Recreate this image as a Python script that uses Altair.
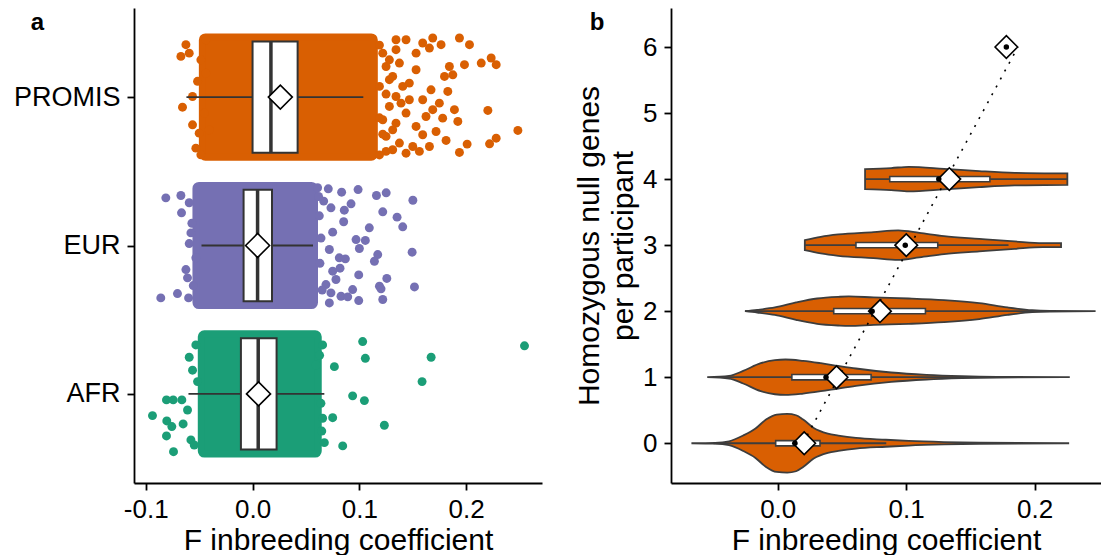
import altair as alt
import pandas as pd

FONT = "Liberation Sans"

# ---------------- panel a data ----------------
groups = ["PROMIS", "EUR", "AFR"]
group_pos = [3, 2, 1]
group_colors = ["#D95F02", "#7570B3", "#1B9E77"]

# dense part of each jittered cloud (F range)
core_lo = [-0.047, -0.053, -0.048]
core_hi = [0.114, 0.058, 0.0615]

box_q1 = [0.0, -0.0084, -0.0109]
box_med = [0.0172, 0.0047, 0.0053]
box_q3 = [0.0422, 0.0182, 0.0225]
whisk_lo = [-0.0619, -0.0478, -0.060]
whisk_hi = [0.1037, 0.0566, 0.0672]
group_mean = [0.026, 0.0047, 0.0056]

# scattered (individually visible) participants: F value and jitter offset
promis_F = [0.1937, 0.2031, 0.2141, 0.2234, 0.2281, 0.1984, 0.2203, 0.2484, 0.2281, 0.2219,
            0.2009, 0.1937, 0.1812, 0.178, 0.189, 0.1922, 0.1828, 0.1797, 0.1875, 0.1765,
            0.1687, 0.1593, 0.1656, 0.1562, 0.1656, 0.1624, 0.1687, 0.1718, 0.15, 0.1593,
            0.1437, 0.1531, 0.1468, 0.1406, 0.1343, 0.1531, 0.1437, 0.1312, 0.1281, 0.1375,
            0.125, 0.1593, 0.1671, 0.1749, 0.1531, 0.1343, 0.1843,
            0.1219, 0.125, 0.1312, 0.1343, 0.1281, 0.1219, 0.1312, 0.1375, 0.1437, 0.1468,
            0.1343, 0.1281, 0.139, 0.125, 0.1188, 0.1188, 0.1219, 0.1188, 0.125, 0.1188,
            -0.0671, -0.0624, -0.0515, -0.0656, -0.0562, -0.0484, -0.0531, -0.0562, -0.0593,
            -0.0484, -0.0437, -0.0452, -0.0406, -0.05, -0.0437]
promis_jit = [0.398, 0.353, 0.229, 0.263, 0.218, 0.218, -0.09, -0.225, -0.277, -0.315,
              -0.317, -0.373, -0.292, -0.142, -0.085, -0.164, 0.038, 0.139, 0.15, 0.353,
              0.398, 0.364, 0.33, -0.366, -0.333, -0.131, -0.085, -0.232, -0.333, -0.254,
              0.386, 0.184, -0.018, 0.072, -0.176, -0.198, -0.378, -0.355, 0.117, 0.229,
              -0.265, -0.018, 0.049, -0.041, 0.296, 0.319, 0.206,
              0.296, 0.206, 0.139, 0.004, -0.063, -0.153, -0.221, -0.31, -0.108, 0.094,
              0.386, 0.251, -0.041, -0.366, 0.072, 0.35, -0.25, -0.39, 0.02, -0.14,
              0.274, 0.353, 0.106, -0.068, -0.187, -0.389, -0.344, 0.004, 0.296,
              0.251, 0.161, -0.108, -0.221, -0.243, 0.386]

eur_F = [0.0609, 0.0709, 0.0834, 0.0988, 0.116, 0.1251, 0.1501, 0.0666, 0.0734, 0.0922,
         0.0859, 0.0853, 0.1219, 0.1353, 0.1406, 0.1093, 0.075, 0.0969, 0.1056, 0.1,
         0.1494, 0.1172, 0.1141, 0.0719, 0.0812, 0.0869, 0.0819, 0.075, 0.0781, 0.0687,
         0.0734, 0.0828, 0.0891, 0.0937, 0.0994, 0.1257, 0.1188, 0.1203, 0.1516, 0.1219,
         0.0994, 0.0719, 0.0625, 0.0641, 0.0631, 0.0652, 0.0618,
         -0.0812, -0.0671, -0.0593, -0.0665, -0.0577, -0.0593, -0.0624, -0.0609, -0.0859,
         -0.0703, -0.0599, -0.0531, -0.0568, -0.0555]
eur_jit = [0.389, 0.382, 0.359, 0.377, 0.337, 0.355, 0.305, 0.299, 0.254, 0.281,
           0.238, 0.16, 0.227, 0.191, 0.126, 0.119, 0.09, 0.04, 0.034, -0.02,
           -0.045, -0.061, -0.106, -0.027, -0.083, -0.09, -0.153, -0.173, -0.229, -0.263,
           -0.319, -0.342, -0.346, -0.297, -0.198, -0.222, -0.274, -0.292, -0.279, -0.364,
           -0.371, -0.387, 0.2, 0.05, -0.12, -0.3, 0.33,
           0.321, 0.337, 0.288, 0.22, 0.085, 0.013, -0.162, -0.218, -0.353,
           -0.324, -0.353, -0.083, 0.15, -0.27]

afr_F = [0.0766, 0.1031, 0.1056, 0.1672, 0.1587, 0.2546, 0.0937, 0.1047, 0.075, 0.1234,
         0.0844, 0.0672, 0.0656, 0.064, 0.0594, 0.0656, 0.0628, 0.0648,
         -0.0937, -0.0806, -0.0743, -0.0662, -0.0803, -0.0756, -0.0806, -0.074, -0.065,
         -0.0593, -0.0577, -0.0546, -0.0609, -0.0515, -0.0531, -0.0562]
afr_jit = [0.184, 0.353, 0.24, 0.247, 0.083, 0.324, -0.013, -0.045, -0.16, -0.211,
           -0.35, -0.328, -0.164, -0.063, 0.195, 0.33, 0.26, -0.25,
           -0.146, -0.04, -0.04, -0.04, -0.182, -0.22, -0.283, -0.389, -0.202,
           0.247, -0.31, -0.344, -0.108, 0.083, 0.33, 0.16]

# ---------------- panel b data ----------------
# violin outlines: F positions and half-widths (in y units)
v0_F = [-0.0672, -0.0488, -0.0379, -0.0269, -0.0173, -0.0091, -0.0008, 0.0074, 0.0143, 0.0198,
        0.028, 0.039, 0.0472, 0.0609, 0.0842, 0.102, 0.1295, 0.1569, 0.2269]
v0_w = [0.0, 0.005, 0.03, 0.117, 0.223, 0.359, 0.435, 0.444, 0.424, 0.359,
        0.232, 0.147, 0.117, 0.08, 0.053, 0.035, 0.018, 0.008, 0.0]
v1_F = [-0.0549, -0.0379, -0.0269, -0.0132, -0.0022, 0.006, 0.0198, 0.0335, 0.0472, 0.0609,
        0.0883, 0.1158, 0.1432, 0.1706, 0.2274]
v1_w = [0.0, 0.02, 0.095, 0.212, 0.258, 0.268, 0.247, 0.212, 0.171, 0.132,
        0.071, 0.035, 0.015, 0.005, 0.0]
v2_F = [-0.0255, -0.0159, -0.0022, 0.0143, 0.0307, 0.0472, 0.0554, 0.0746, 0.102, 0.1295,
        0.1569, 0.1789, 0.1981, 0.2118, 0.2475]
v2_w = [0.0, 0.02, 0.056, 0.132, 0.192, 0.217, 0.223, 0.208, 0.192, 0.167,
        0.121, 0.056, 0.015, 0.005, 0.0]
v3_F = [0.0211, 0.0335, 0.0472, 0.0746, 0.0938, 0.1103, 0.1295, 0.1569, 0.1844, 0.2063, 0.2206]
v3_w = [0.076, 0.126, 0.162, 0.197, 0.223, 0.186, 0.136, 0.095, 0.056, 0.03, 0.03]
v4_F = [0.068, 0.0883, 0.102, 0.1295, 0.1569, 0.1844, 0.2255]
v4_w = [0.152, 0.167, 0.186, 0.156, 0.121, 0.095, 0.086]

violin_counts = [0, 1, 2, 3, 4]
vb_q1 = [-0.0016, 0.011, 0.0436, 0.0609, 0.0872]
vb_q3 = [0.0329, 0.0727, 0.115, 0.1246, 0.1652]
vb_wlo = [-0.05, -0.05, -0.0255, 0.0211, 0.068]
vb_whi = [0.0845, 0.165, 0.2, 0.1797, 0.2255]

all_counts = [0, 1, 2, 3, 4, 6]
cnt_mean = [0.0206, 0.0458, 0.0796, 0.1001, 0.1336, 0.178]
cnt_median = [0.0134, 0.0376, 0.0735, 0.0993, 0.1254, 0.178]

fit_count = [0, 6]
fit_F = [0.0196, 0.187]

# ---------------- tables ----------------
pos_of = dict(zip(groups, group_pos))
df_core = pd.DataFrame({"group": groups, "pos": group_pos, "lo": core_lo, "hi": core_hi})
df_box = pd.DataFrame({"group": groups, "pos": group_pos, "q1": box_q1, "med": box_med,
                       "q3": box_q3, "wl": whisk_lo, "wh": whisk_hi, "mean": group_mean})
pts = []
for g, fs, js in [("PROMIS", promis_F, promis_jit), ("EUR", eur_F, eur_jit), ("AFR", afr_F, afr_jit)]:
    for f, j in zip(fs, js):
        pts.append({"group": g, "F": f, "yy": pos_of[g] + j})
df_pts = pd.DataFrame(pts)

vrows = []
for n, fs, ws in [(0, v0_F, v0_w), (1, v1_F, v1_w), (2, v2_F, v2_w), (3, v3_F, v3_w), (4, v4_F, v4_w)]:
    for f, w in zip(fs, ws):
        vrows.append({"n": n, "F": f, "w": w})
df_v = pd.DataFrame(vrows)
df_vbox = pd.DataFrame({"n": violin_counts, "q1": vb_q1, "q3": vb_q3, "wl": vb_wlo, "wh": vb_whi})
df_mean = pd.DataFrame({"n": all_counts, "mean": cnt_mean, "med": cnt_median})
df_fit = pd.DataFrame({"n": fit_count, "F": fit_F})

# ---------------- panel a ----------------
sc_xa = alt.Scale(domain=[-0.111, 0.271], nice=False, zero=False)
sc_ya = alt.Scale(domain=[0.4, 3.6], nice=False, zero=False)
neg_fmt = "datum.value < 0 ? '-' + format(-datum.value, '.1f') : format(datum.value, '.1f')"
ax_xa = alt.Axis(values=[-0.1, 0.0, 0.1, 0.2], labelExpr=neg_fmt, title="F inbreeding coefficient",
                 labelFontSize=26, titleFontSize=30, labelPadding=6, titlePadding=3)
ylab = " : ".join([f"datum.value == {p} ? '{g}'" for g, p in zip(groups, group_pos)]) + " : ''"
ax_ya = alt.Axis(values=group_pos, labelExpr=ylab, title=None, labelFontSize=27, labelPadding=7)


def xa(f):
    return alt.X(f"{f}:Q", scale=sc_xa, axis=ax_xa)


def ya(f):
    return alt.Y(f"{f}:Q", scale=sc_ya, axis=ax_ya)


col = alt.Color("group:N", scale=alt.Scale(domain=groups, range=group_colors), legend=None)

a_core = alt.Chart(df_core).transform_calculate(
    ylo="datum.pos - 0.405", yhi="datum.pos + 0.405"
).mark_rect(opacity=1, strokeWidth=7, strokeJoin="round", cornerRadius=3).encode(
    x=xa("lo"), x2="hi:Q", y=ya("ylo"), y2="yhi:Q", color=col, stroke=col)

a_pts = alt.Chart(df_pts).mark_circle(size=80, opacity=1).encode(x=xa("F"), y=ya("yy"), color=col)

a_wh = alt.Chart(df_box).mark_rule(color="#333333", strokeWidth=1.8).encode(
    x=xa("wl"), x2="wh:Q", y=ya("pos"))
a_box = alt.Chart(df_box).transform_calculate(
    ylo="datum.pos - 0.375", yhi="datum.pos + 0.375"
).mark_rect(fill="white", stroke="#333333", strokeWidth=2).encode(
    x=xa("q1"), x2="q3:Q", y=ya("ylo"), y2="yhi:Q")
a_med = alt.Chart(df_box).transform_calculate(
    ylo="datum.pos - 0.375", yhi="datum.pos + 0.375"
).mark_rule(color="#333333", strokeWidth=3.5).encode(x=xa("med"), y=ya("ylo"), y2="yhi:Q")
a_mean = alt.Chart(df_box).mark_point(shape="diamond", size=576, filled=True, fill="white",
                                      stroke="black", strokeWidth=1.6, opacity=1).encode(
    x=xa("mean"), y=ya("pos"))
a_lab = alt.Chart(pd.DataFrame({"t": ["a"]})).mark_text(
    fontSize=24, fontWeight="bold", font=FONT, align="center", baseline="alphabetic", color="black"
).encode(text="t:N", x=alt.value(-96.5), y=alt.value(22))

panel_a = alt.layer(a_core, a_pts, a_wh, a_box, a_med, a_mean, a_lab).properties(width=408, height=475)

# ---------------- panel b ----------------
sc_xb = alt.Scale(domain=[-0.0831, 0.2517], nice=False, zero=False)
sc_yb = alt.Scale(domain=[-0.602, 6.591], nice=False, zero=False)
ax_xb = alt.Axis(values=[0.0, 0.1, 0.2], labelExpr=neg_fmt, title="F inbreeding coefficient",
                 labelFontSize=26, titleFontSize=30, labelPadding=6, titlePadding=3)
ax_yb = alt.Axis(values=[0, 1, 2, 3, 4, 5, 6], format="d",
                 title=["Homozygous null genes", "per participant"],
                 labelFontSize=26, titleFontSize=30, titleLineHeight=34, labelPadding=7, titlePadding=4)


def xb(f):
    return alt.X(f"{f}:Q", scale=sc_xb, axis=ax_xb)


def yb(f):
    return alt.Y(f"{f}:Q", scale=sc_yb, axis=ax_yb)


b_violin = alt.Chart(df_v).transform_calculate(
    lo="datum.n - datum.w", hi="datum.n + datum.w"
).mark_area(orient="vertical", interpolate="monotone", fill="#D95F02", stroke="#3d3d3d",
            strokeWidth=1.8, opacity=1).encode(x=xb("F"), y=yb("lo"), y2="hi:Q", detail="n:N")
b_wh = alt.Chart(df_vbox).mark_rule(color="#3d3d3d", strokeWidth=1.8).encode(
    x=xb("wl"), x2="wh:Q", y=yb("n"))
b_box = alt.Chart(df_vbox).transform_calculate(
    ylo="datum.n - 0.04", yhi="datum.n + 0.04"
).mark_rect(fill="white", stroke="#3d3d3d", strokeWidth=1.6).encode(
    x=xb("q1"), x2="q3:Q", y=yb("ylo"), y2="yhi:Q")
b_fit = alt.Chart(df_fit).mark_line(color="black", strokeWidth=1.6, strokeDash=[2, 7]).encode(
    x=xb("F"), y=yb("n"))
b_mean = alt.Chart(df_mean).mark_point(shape="diamond", size=510, filled=True, fill="white",
                                       stroke="black", strokeWidth=1.6, opacity=1).encode(
    x=xb("mean"), y=yb("n"))
b_med = alt.Chart(df_mean).mark_circle(size=30, color="black", opacity=1).encode(
    x=xb("med"), y=yb("n"))
b_lab = alt.Chart(pd.DataFrame({"t": ["b"]})).mark_text(
    fontSize=24, fontWeight="bold", font=FONT, align="center", baseline="alphabetic", color="black"
).encode(text="t:N", x=alt.value(-74), y=alt.value(22))

panel_b = alt.layer(b_violin, b_wh, b_box, b_fit, b_mean, b_med, b_lab).properties(width=430, height=475)

chart = alt.hconcat(panel_a, panel_b, spacing=32).properties(
    padding={"left": 5, "top": 0, "right": 0, "bottom": 0}
).configure_view(stroke=None).configure_axis(
    labelFont=FONT, titleFont=FONT, labelColor="black", titleColor="black",
    domainColor="black", tickColor="black", grid=False, domainWidth=1.8, tickWidth=1.8,
    tickSize=7, titleFontWeight="normal", labelOverlap=False
).configure_text(font=FONT)

chart.save("out.html", embed_options={"renderer": "svg", "actions": False})
